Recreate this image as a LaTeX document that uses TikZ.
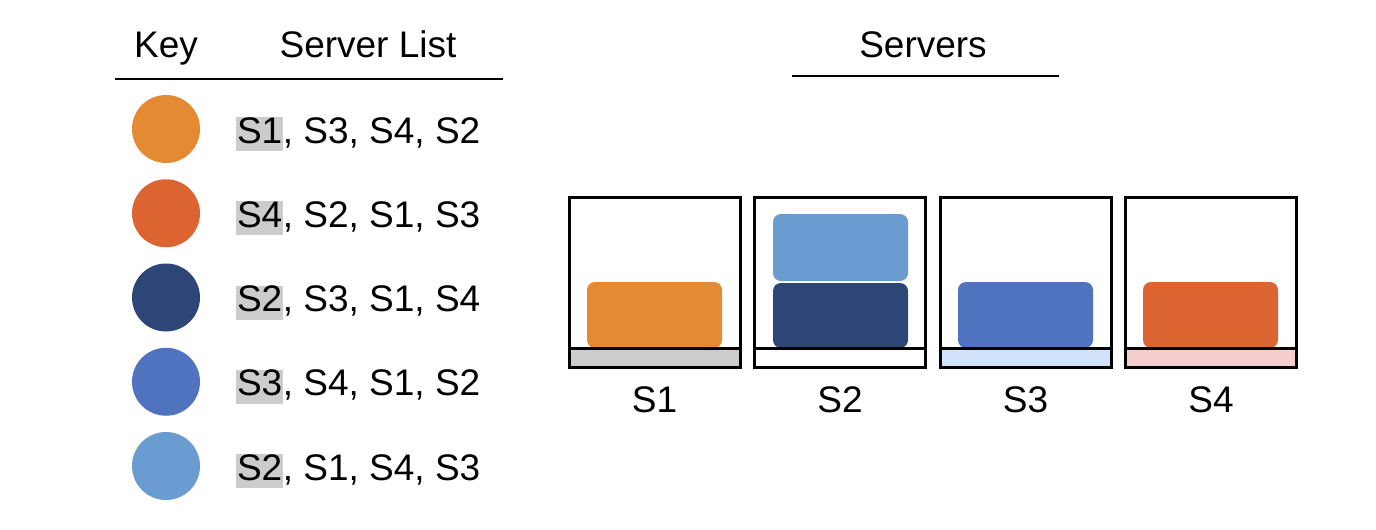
\documentclass[tikz,border=0pt]{standalone}
\usepackage{fontspec}
\setmainfont{Liberation Sans}
\usepackage{xcolor}
\usetikzlibrary{positioning}
\definecolor{keyorange}{HTML}{E48A33}
\definecolor{keyred}{HTML}{DB6431}
\definecolor{keynavy}{HTML}{2E4577}
\definecolor{keyblue}{HTML}{4F73BE}
\definecolor{keysky}{HTML}{6A9BD1}
\definecolor{hlgrey}{HTML}{CCCCCC}
\definecolor{stripblue}{HTML}{D0E3FA}
\definecolor{strippink}{HTML}{F6CECE}
\newcommand{\hl}[1]{{\setlength{\fboxsep}{0pt}\colorbox{hlgrey}{\rule[-4pt]{0pt}{17pt}\kern0.3pt#1\kern0.3pt}}}
\tikzset{%
	txt/.style    = {font=\fontsize{18.5}{22}\selectfont, inner sep=0pt},
	keydot/.style = {circle, minimum size=34pt, inner sep=0pt},
	job/.style    = {rounded corners=4pt},
	rack/.style   = {draw, line width=1.5pt},
	rule/.style   = {line width=1.1pt},
}
\begin{document}
\begin{tikzpicture}[x=0.5pt,y=-0.5pt]
	\useasboundingbox (0,0) rectangle (1376,530);
	
	\node[txt, anchor=base] (key) at (166,57) {Key};
	\node[txt, anchor=base] (list) at (368,57) {Server List};
	\draw[rule] (115,79) coordinate (headl) -- (503,79) coordinate (headr);
	
	\foreach \c/\t [count=\i] in {keyorange/{\hl{S1}, S3, S4, S2}, keyred/{\hl{S4}, S2, S1, S3}, keynavy/{\hl{S2}, S3, S1, S4}, keyblue/{\hl{S3}, S4, S1, S2}, keysky/{\hl{S2}, S1, S4, S3}} {
		\pgfmathsetmacro\y{129+84.25*(\i-1)}
		\node[keydot, fill=\c] (dot\i) at (166,\y) {};
		\node[txt, anchor=base west] (row\i) at (236,\y+14) {\t};
	}
	
	\node[txt, anchor=base] (servers) at (923,57) {Servers};
	\draw[rule] (792,76) coordinate (srvl) -- (1059,76) coordinate (srvr);
	
	% jobs placed on the servers
	\fill[job, keyorange] (587,282) rectangle (722,348);
	\fill[job, keynavy] (773,283) rectangle (908,348);
	\fill[job, keysky] (773,214) rectangle (908,281);
	\fill[job, keyblue] (958,282) rectangle (1093,348);
	\fill[job, keyred] (1143,282) rectangle (1278,348);
	
	\foreach \s [count=\i] in {hlgrey,white,stripblue,strippink} {
		\pgfmathsetmacro\x{569+185.5*(\i-1)}
		\filldraw[rack, fill=\s] (\x,348) rectangle (\x+171,367);
		\draw[rack] (\x,197) rectangle (\x+171,367);
		\node[txt, anchor=base] (srv\i) at (\x+85.5,412) {S\i};
	}
\end{tikzpicture}
\end{document}
